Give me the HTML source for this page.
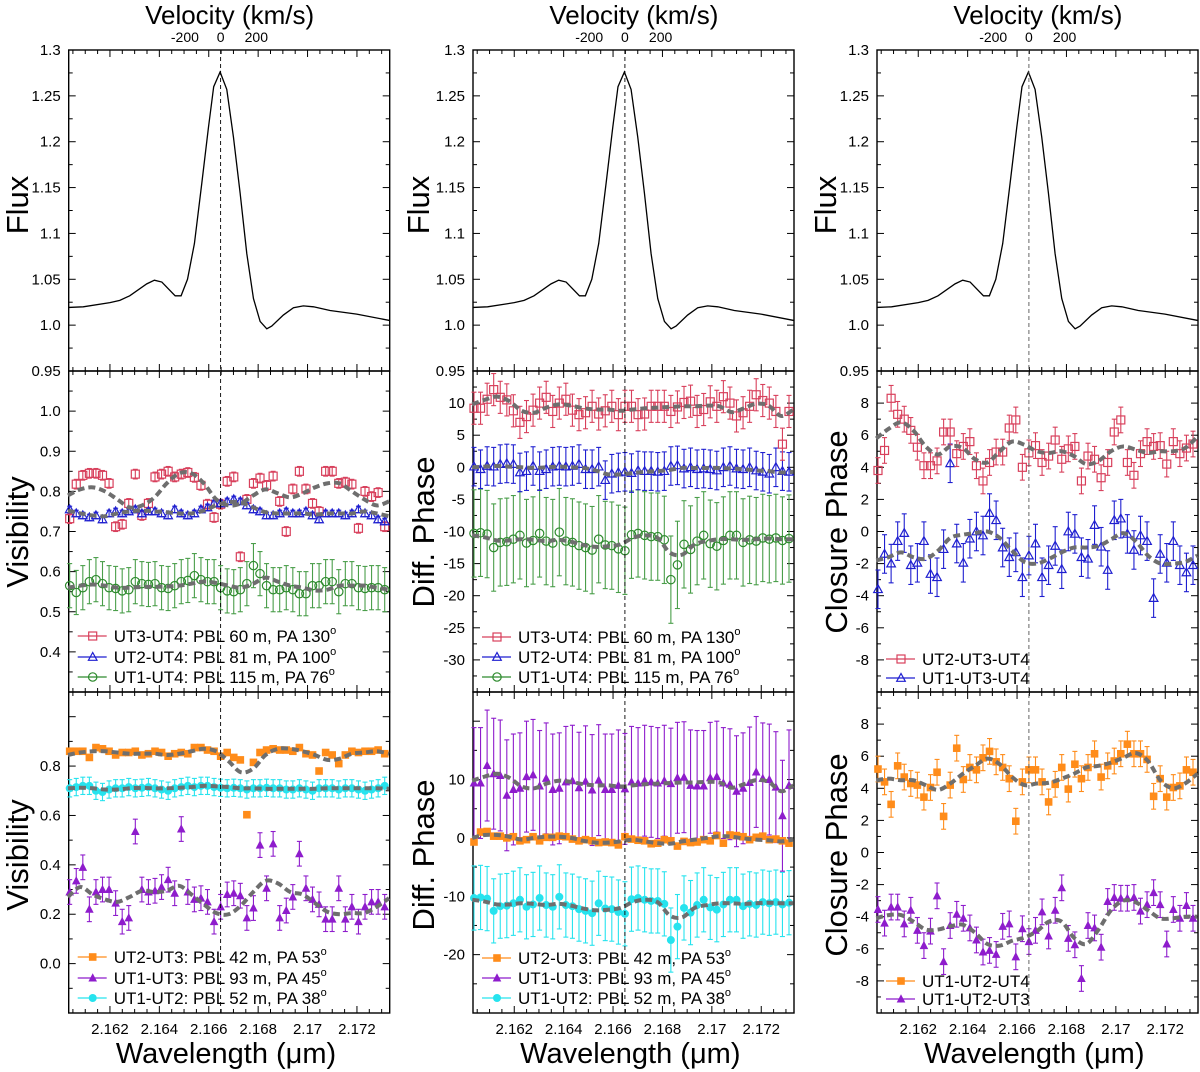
<!DOCTYPE html>
<html><head><meta charset="utf-8"><style>
html,body{margin:0;padding:0;background:#fff;}
svg{display:block;font-family:"Liberation Sans",Arial,sans-serif;}
</style></head><body>
<svg id="fig" width="1200" height="1072" viewBox="0 0 1200 1072" xmlns="http://www.w3.org/2000/svg"></svg>
<script>
// ---------- data ----------
const fluxWl = [2.16033,2.16092,2.16200,2.1624,2.1628,2.16349,2.1638,2.1641,2.16464,2.16488,2.16514,2.16542,2.16572,2.16599,2.1662,2.16646,2.16673,2.167,2.16727,2.16754,2.16781,2.16808,2.16835,2.16855,2.16902,2.16943,2.16983,2.17024,2.17091,2.17199,2.17334];
const fluxVal = [1.0193,1.020,1.0245,1.027,1.032,1.045,1.049,1.047,1.032,1.032,1.050,1.089,1.155,1.216,1.26,1.276,1.257,1.205,1.144,1.078,1.029,1.004,0.996,0.999,1.011,1.019,1.021,1.020,1.016,1.012,1.005];
const lineCenter = 2.16648;
const dataStart = 2.16037, dataStep = 0.0002657, nData = 49;
const modelStart = 2.1603, modelStep = 0.0005, nModel = 27;

// Visibility, UT3-UT4 / UT2-UT4 / UT1-UT4
const visUT34 = [.732,.818,.84,.845,.845,.84,.82,.712,.718,.77,.843,.74,.77,.836,.843,.85,.836,.843,.847,.835,.815,.768,.735,.768,.825,.836,.637,.78,.82,.833,.815,.838,.775,.70,.806,.85,.806,.77,.75,.85,.85,.82,.823,.818,.708,.8,.787,.797,.712];
const visUT24 = [.755,.745,.74,.735,.74,.73,.745,.75,.745,.75,.755,.745,.75,.75,.745,.74,.755,.745,.74,.745,.755,.76,.77,.77,.775,.78,.775,.765,.755,.75,.74,.74,.745,.75,.745,.745,.75,.74,.73,.745,.745,.745,.74,.745,.755,.745,.74,.73,.725];
const visUT14 = [.565,.548,.56,.575,.58,.57,.56,.558,.552,.555,.575,.57,.568,.57,.56,.558,.565,.575,.578,.59,.58,.575,.575,.56,.552,.55,.555,.57,.615,.595,.565,.555,.555,.56,.555,.545,.545,.565,.565,.575,.575,.55,.57,.57,.56,.558,.56,.56,.555];
const visUT34Model = [.79,.805,.81,.80,.78,.76,.765,.785,.82,.845,.845,.82,.78,.765,.77,.79,.805,.795,.785,.795,.81,.82,.82,.80,.78,.765,.775];
const visUT24Model = [.752,.745,.74,.738,.745,.75,.752,.75,.748,.745,.745,.752,.765,.773,.772,.76,.748,.745,.745,.745,.742,.745,.745,.745,.75,.745,.738];
const visUT14Model = [.56,.565,.568,.565,.56,.56,.562,.562,.563,.565,.57,.575,.572,.565,.56,.57,.585,.575,.565,.56,.553,.555,.565,.565,.565,.56,.555];
// Visibility, UT2-UT3 / UT1-UT3 / UT1-UT2
const visUT23 = [.86,.86,.86,.835,.875,.87,.86,.845,.855,.855,.86,.845,.85,.86,.855,.84,.85,.855,.85,.875,.875,.865,.86,.84,.855,.835,.825,.603,.815,.855,.865,.87,.865,.865,.86,.875,.85,.845,.78,.855,.845,.81,.845,.86,.855,.86,.86,.865,.85];
const visUT13 = [.29,.335,.39,.22,.29,.30,.30,.245,.17,.185,.535,.30,.29,.295,.31,.34,.285,.545,.29,.26,.265,.25,.17,.23,.28,.285,.275,.185,.225,.48,.305,.485,.185,.215,.27,.445,.305,.26,.24,.18,.18,.305,.18,.23,.17,.23,.25,.25,.23];
const visUT12 = [.71,.715,.72,.72,.70,.695,.705,.71,.71,.715,.71,.712,.715,.71,.705,.70,.71,.715,.72,.715,.72,.72,.715,.712,.71,.712,.71,.705,.71,.71,.712,.71,.71,.705,.705,.71,.705,.70,.71,.71,.71,.705,.71,.71,.705,.70,.705,.71,.72];
const visUT23Model = [.845,.855,.86,.86,.855,.85,.85,.85,.845,.85,.86,.87,.86,.82,.775,.79,.845,.87,.87,.86,.845,.825,.83,.85,.855,.86,.85];
const visUT13Model = [.27,.31,.28,.26,.25,.27,.295,.29,.295,.315,.28,.24,.205,.20,.235,.29,.335,.325,.29,.28,.245,.21,.20,.205,.205,.23,.265];
const visUT12Model = [.71,.712,.71,.705,.705,.71,.712,.71,.71,.712,.715,.72,.718,.715,.71,.71,.708,.708,.708,.708,.708,.71,.71,.71,.71,.71,.708];
// Differential phase
const dpUT34 = [9.2,9.2,10.6,12.1,10.9,10.5,8.8,7.0,7.9,8.9,10.0,10.9,8.7,10.0,10.6,8.9,8.2,8.5,9.5,8.3,8.8,9.5,8.2,9.5,9.5,8.2,8.3,9.5,9.5,9.5,8.7,9.4,10.1,10.3,8.7,9.0,10.2,9.5,11.0,10.0,8.0,8.5,9.5,11.3,10.4,10.0,8.7,3.6,8.7];
const dpUT24 = [0.1,-0.3,0.2,0.1,0.5,0.6,0.5,-0.8,-0.6,0.2,-0.6,-0.3,0.1,0.2,0.1,0.2,0.5,-0.3,-0.3,0.1,-2.0,-1.0,-0.8,-0.7,-0.9,-0.5,-0.6,-0.6,-0.7,-0.6,0.2,0.3,-0.2,0,-0.3,-0.2,-0.3,-0.5,0,0.2,-0.2,-0.3,0,-0.5,-0.7,-1.0,0,-0.6,-0.7];
const dpUT14 = [-10.3,-10.2,-10.4,-12.5,-11.7,-11.6,-11.2,-10.6,-11.8,-11.4,-10.3,-11.5,-11.8,-10.1,-11.5,-11.7,-12.2,-12.5,-12.9,-11.2,-12.1,-12.2,-12.7,-13.0,-10.5,-10.3,-10.6,-10.8,-10.8,-11.3,-17.5,-15.2,-12.0,-12.8,-11.5,-10.6,-11.9,-12.3,-11.4,-10.6,-10.6,-11.7,-11.3,-11.5,-11.0,-11.2,-11.0,-11.4,-11.1];
const dpUT34Model = [9.8,10.5,11.0,10.3,8.8,8.5,9.3,9.8,9.6,9.2,9.0,9.0,8.8,9.0,9.2,9.3,9.4,9.5,9.5,9.6,9.5,8.6,9.2,9.9,9.6,8.0,9.0];
const dpUT24Model = [0,0.1,0.2,0.1,0,-0.1,0,0.1,0,-0.1,-0.5,-1.1,-1.1,-0.9,-0.7,-0.6,-0.4,-0.1,-0.1,-0.1,-0.1,-0.2,-0.3,-0.5,-0.6,-0.8,-0.7];
const dpUT14Model = [-10.6,-10.9,-11.4,-11.4,-11.2,-11.3,-11.5,-11.3,-11.6,-12.1,-12.4,-12.3,-12.0,-11.0,-10.6,-11.0,-13.3,-13.6,-12.0,-11.5,-11.2,-11.2,-11.3,-11.2,-11.1,-11.2,-11.2];
const dpUT23 = [-0.7,1.0,1.1,0.3,0.3,0,0.2,-0.5,-0.3,0.2,-0.5,0.1,0.1,0.3,0.2,-0.2,-0.5,-0.3,-0.5,-0.8,-0.7,-0.8,-1.2,0.2,-0.2,-0.4,-0.5,-1.0,-0.9,-0.3,-0.5,-1.4,-0.6,-0.8,-0.7,-0.3,-0.5,0.4,-0.9,0.5,0.4,0.2,-0.3,0.1,0.3,-0.3,-0.2,-0.5,-0.9];
const dpUT13 = [9.4,9.4,12.4,11.0,10.7,7.3,8.3,8.5,10.5,10.8,8.9,10.2,8.3,8.5,9.6,9.8,8.6,9.7,8.2,9.9,8.3,8.3,9.0,8.4,9.6,9.4,9.8,9.6,9.4,9.8,9.3,10.3,10.4,9.0,8.9,8.9,10.3,10.5,9.4,9.2,8.0,8.5,9.5,11.3,10.2,10.0,8.7,3.8,9.0];
const dpUT12 = [-10.3,-10.2,-10.4,-12.5,-11.7,-11.6,-11.2,-10.6,-11.8,-11.4,-10.3,-11.5,-11.8,-10.1,-11.5,-11.7,-12.2,-12.5,-12.9,-11.2,-12.1,-12.2,-12.7,-13.0,-10.5,-10.3,-10.6,-10.8,-10.8,-11.3,-17.5,-15.2,-12.0,-12.8,-11.5,-10.6,-11.9,-12.3,-11.4,-10.6,-10.6,-11.7,-11.3,-11.5,-11.0,-11.2,-11.0,-11.4,-11.1];
const dpUT23Model = [0,0.5,0.5,0.2,-0.3,0,0.2,0.2,0,-0.5,-0.8,-0.8,-0.6,-0.3,-0.6,-0.9,-1.0,-0.6,-0.3,0,0.3,0.2,-0.1,-0.3,-0.4,-0.6,-0.3];
const dpUT13Model = [9.8,10.5,11.0,10.3,8.8,8.5,9.3,9.8,9.6,9.2,9.0,9.0,8.8,9.0,9.2,9.3,9.4,9.5,9.5,9.6,9.5,8.6,9.2,9.9,9.6,8.0,9.0];
const dpUT12Model = [-10.6,-10.9,-11.4,-11.4,-11.2,-11.3,-11.5,-11.3,-11.6,-12.1,-12.4,-12.3,-12.0,-11.0,-10.6,-11.0,-13.3,-13.6,-12.0,-11.5,-11.2,-11.2,-11.3,-11.2,-11.1,-11.2,-11.2];
// Closure phase
const cpUT234 = [3.8,5.05,8.3,7.3,7.0,6.3,5.25,4.1,4.1,4.4,6.2,6.2,4.85,5.3,5.6,4.1,3.15,4.3,4.95,4.95,6.45,6.95,4.0,4.9,5.35,4.3,4.7,5.7,4.5,5.15,5.3,3.15,4.7,4.5,3.35,4.3,6.2,6.95,4.3,3.5,4.85,5.6,5.3,5.35,4.2,5.6,4.85,5.2,5.45];
const cpUT134 = [-3.6,-1.4,-2.0,-0.6,-0.1,-2.1,-1.95,-0.6,-2.65,-2.85,-1.1,4.25,-0.75,-1.95,-0.45,0,-0.25,1.15,0.7,-1.0,-1.6,-1.3,-2.85,-1.5,-0.75,-2.85,-2.1,-0.9,-2.35,0,-0.15,-1.6,-1.7,0.4,-0.95,-2.4,0.7,0.8,-0.15,-1.15,-0.25,-0.6,-4.15,-1.4,-1.95,-0.6,-2.1,-2.55,-2.1];
const cpUT234Model = [5.8,6.4,6.8,6.3,5.3,4.8,5.3,5.2,4.5,4.3,5.0,5.6,5.4,5.0,4.9,5.0,4.7,4.2,4.4,5.0,5.3,5.1,4.9,5.0,5.0,5.2,5.9];
const cpUT134Model = [-1.8,-1.6,-1.3,-1.6,-1.7,-1.2,-0.4,-0.2,-0.1,0,-0.4,-1.2,-1.9,-2.0,-1.7,-1.3,-1.0,-1.0,-0.9,-0.5,-0.1,-0.6,-1.5,-2.0,-2.0,-1.9,-1.5];
const cpUT124 = [5.2,4.4,3.0,5.4,4.7,4.3,4.2,3.45,4.05,5.0,2.25,4.2,6.5,4.55,5.3,5.15,5.9,6.3,5.65,5.3,4.6,1.95,4.4,5.15,5.15,4.4,3.15,4.25,5.3,3.95,5.5,4.6,5.3,6.15,4.7,5.4,5.7,6.15,6.75,6.15,6.15,5.8,3.5,4.6,3.45,4.05,4.15,5.15,5.0];
const cpUT123 = [-3.55,-4.4,-3.4,-3.4,-4.45,-3.6,-4.85,-5.8,-4.9,-2.7,-6.8,-4.55,-3.85,-4.1,-4.7,-5.45,-6.2,-6.1,-6.35,-4.6,-4.45,-6.5,-4.75,-5.55,-4.85,-3.7,-5.2,-3.6,-2.2,-5.35,-5.75,-7.85,-4.55,-4.7,-5.9,-3.05,-2.8,-2.85,-2.85,-2.8,-3.65,-3.25,-2.5,-3.25,-5.7,-3.55,-4.1,-3.3,-4.1];
const cpUT124Model = [4.5,4.6,4.5,4.5,4.2,3.9,4.3,4.9,5.4,5.85,5.5,4.7,4.2,4.3,4.35,4.6,4.9,5.3,5.4,5.6,5.9,6.2,5.7,4.5,4.0,4.3,4.9];
const cpUT123Model = [-4.1,-3.9,-3.9,-4.3,-4.8,-4.8,-4.6,-4.5,-5.0,-5.7,-5.8,-5.5,-5.3,-4.9,-4.3,-4.3,-5.3,-5.7,-4.8,-3.6,-3.0,-3.1,-3.6,-4.1,-4.1,-4.0,-4.0];

// ---------- drawing ----------
const NS = "http://www.w3.org/2000/svg";
const svg = document.getElementById('fig');
function mk(tag, attrs, parent){
  const e = document.createElementNS(NS, tag);
  for (const k in attrs) e.setAttribute(k, attrs[k]);
  (parent||svg).appendChild(e);
  return e;
}
const W0 = 2.16033, PX = 24700, PW = 321, PH = 321;
const COLS = [68.7, 473, 877];
const ROWS = [50, 371, 692];
const C = {red:'#d8405c', blue:'#1f1fd0', green:'#2e8b2e', greenErr:'#4a9e4a', orange:'#ff8c1a', purple:'#8e1ccc', cyan:'#26e3ee', model:'#6e6e6e'};

function xs(L, w){ return L + (w - W0)*PX; }
function makeY(T, ymin, ymax){ return v => T + (ymax - v)/(ymax - ymin)*PH; }

function smoothPath(pts){
  let d = 'M' + pts[0][0].toFixed(2) + ',' + pts[0][1].toFixed(2);
  for (let i=0;i<pts.length-1;i++){
    const p0 = pts[Math.max(0,i-1)], p1 = pts[i], p2 = pts[i+1], p3 = pts[Math.min(pts.length-1,i+2)];
    const c1 = [p1[0]+(p2[0]-p0[0])/6, p1[1]+(p2[1]-p0[1])/6];
    const c2 = [p2[0]-(p3[0]-p1[0])/6, p2[1]-(p3[1]-p1[1])/6];
    d += ' C' + c1.map(v=>v.toFixed(2)).join(',') + ' ' + c2.map(v=>v.toFixed(2)).join(',') + ' ' + p2[0].toFixed(2) + ',' + p2[1].toFixed(2);
  }
  return d;
}

function panelAxes(L, T, ymin, ymax, labels, majorStep, minorStep, name){
  const y = makeY(T, ymin, ymax);
  const g = mk('g', {});
  
  
  mk('rect', {x:L, y:T, width:PW, height:PH, fill:'none', stroke:'#000', 'stroke-width':1.4}, g);
  for (let k=0;k<=30;k++){
    const w = 2.1605 + k*0.0005;
    const px = xs(L, w);
    if (px <= L+0.5 || px >= L+PW-0.5) continue;
    const major = Math.abs(((w-2.160)/0.002) - Math.round((w-2.160)/0.002)) < 1e-6;
    const len = major ? 7 : 4;
    mk('line', {x1:px, x2:px, y1:T, y2:T+len, stroke:'#000', 'stroke-width':1}, g);
    mk('line', {x1:px, x2:px, y1:T+PH, y2:T+PH-len, stroke:'#000', 'stroke-width':1}, g);
  }
  const n0 = Math.ceil(ymin/minorStep - 1e-6), n1 = Math.floor(ymax/minorStep + 1e-6);
  for (let n=n0;n<=n1;n++){
    const v = n*minorStep;
    const py = y(v);
    if (py <= T+0.5 || py >= T+PH-0.5) continue;
    const r = v/majorStep;
    const major = Math.abs(r - Math.round(r)) < 1e-6;
    const len = major ? 7 : 4;
    mk('line', {x1:L, x2:L+len, y1:py, y2:py, stroke:'#000', 'stroke-width':1}, g);
    mk('line', {x1:L+PW, x2:L+PW-len, y1:py, y2:py, stroke:'#000', 'stroke-width':1}, g);
  }
  labels.forEach(([v, s]) => {
    const t = mk('text', {x:L-8, y:y(v)+5, 'text-anchor':'end', 'font-size':15, fill:'#000'}, g);
    
    
    t.textContent = s;
  });
  return y;
}

function drawSeries(L, y, vals, err, color, errColor, marker, name){
  const g = mk('g', {});
  
  
  vals.forEach((v, i) => {
    const w = dataStart + i*dataStep;
    const px = xs(L, w), py = y(v);
    if (err > 0){
      const a = y(v+err), b = y(v-err);
      mk('line', {x1:px, x2:px, y1:a, y2:b, stroke:errColor, 'stroke-width':1.1}, g);
      mk('line', {x1:px-2.5, x2:px+2.5, y1:a, y2:a, stroke:errColor, 'stroke-width':1.1}, g);
      mk('line', {x1:px-2.5, x2:px+2.5, y1:b, y2:b, stroke:errColor, 'stroke-width':1.1}, g);
    }
    const m = drawMarker(g, px, py, marker, color);
    
    
  });
}

function drawMarker(g, px, py, marker, color){
  if (marker === 'osq') return mk('rect', {x:px-4, y:py-4, width:8, height:8, fill:'#fff', 'fill-opacity':0, stroke:color, 'stroke-width':1.2}, g);
  if (marker === 'fsq') return mk('rect', {x:px-3.8, y:py-3.8, width:7.6, height:7.6, fill:color}, g);
  if (marker === 'otri') return mk('polygon', {points:`${px},${py-4.5} ${px-4.3},${py+3.3} ${px+4.3},${py+3.3}`, fill:'none', stroke:color, 'stroke-width':1.2}, g);
  if (marker === 'ftri') return mk('polygon', {points:`${px},${py-4.8} ${px-4.3},${py+3.5} ${px+4.3},${py+3.5}`, fill:color}, g);
  if (marker === 'ocirc') return mk('circle', {cx:px, cy:py, r:4.2, fill:'none', stroke:color, 'stroke-width':1.2}, g);
  return mk('circle', {cx:px, cy:py, r:4, fill:color}, g);
}

function drawModel(L, y, vals, name){
  const pts = vals.map((v,i) => [xs(L, modelStart + i*modelStep), y(v)]);
  const p = mk('path', {d:smoothPath(pts), fill:'none', stroke:C.model, 'stroke-width':4, 'stroke-dasharray':'7 4'});
  
  
}

function legend(L, ys, items){
  items.forEach((it, k) => {
    const yy = ys[k];
    const g = mk('g', {});
    
    
    mk('line', {x1:L+9, x2:L+38, y1:yy, y2:yy, stroke:it.color, 'stroke-width':1.2}, g);
    drawMarker(g, L+24, yy, it.marker, it.color);
    const t = mk('text', {x:L+45, y:yy+6, 'font-size':17, fill:'#000'}, g);
    t.textContent = it.text;
    if (it.sup){
      const s = mk('tspan', {dy:-8, 'font-size':11}, t);
      s.textContent = 'o';
    }
  });
}

function txt(x, y, s, size, name, rot){
  const t = mk('text', {x:x, y:y, 'text-anchor':'middle', 'font-size':size, fill:'#000'});
  if (rot) t.setAttribute('transform', `rotate(-90 ${x} ${y})`);
  
  
  t.textContent = s;
  return t;
}

const topLabels = [[1.3,'1.3'],[1.25,'1.25'],[1.2,'1.2'],[1.15,'1.15'],[1.1,'1.1'],[1.05,'1.05'],[1.0,'1.0'],[0.95,'0.95']];
const titles = [['Visibility','Visibility'],['Diff. Phase','Diff. Phase'],['Closure Phase','Closure Phase']];
const titleX = [28, 434, 847];
const fluxTitleX = [28, 429, 836];

COLS.forEach((L, c) => {
  const yf = panelAxes(L, ROWS[0], 0.95, 1.3, topLabels, 0.05, 0.025, 'flux-panel-' + (c+1));
  const fp = mk('polyline', {points: fluxWl.map((w,i)=> xs(L,w).toFixed(2)+','+yf(fluxVal[i]).toFixed(2)).join(' '), fill:'none', stroke:'#000', 'stroke-width':1.3});
  
  
  const cx = xs(L, lineCenter);
  txt(cx + 9, 24, 'Velocity (km/s)', 26, 'velocity-axis-title');
  [[-200,'-200'],[0,'0'],[200,'200']].forEach(([v,s]) => {
    txt(cx + v*(35.7/200), 42, s, 14, 'velocity-tick-label');
  });
  txt(fluxTitleX[c], 205, 'Flux', 31, 'y-axis-title-flux', true);
  txt(titleX[c], 532, titles[c][0], 31, 'y-axis-title-mid', true);
  txt(titleX[c], 855, titles[c][1], 31, 'y-axis-title-bottom', true);
  [[2.162,'2.162'],[2.164,'2.164'],[2.166,'2.166'],[2.168,'2.168'],[2.17,'2.17'],[2.172,'2.172']].forEach(([w,s]) => {
    txt(xs(L,w), 1034, s, 15, 'x-tick-label');
  });
  txt(xs(L, 2.1667), 1063, 'Wavelength (\u03bcm)', 29, 'x-axis-title');
});

// column 1
{
  const L = COLS[0];
  const ym = panelAxes(L, ROWS[1], 0.3, 1.1, [[1.0,'1.0'],[0.9,'0.9'],[0.8,'0.8'],[0.7,'0.7'],[0.6,'0.6'],[0.5,'0.5'],[0.4,'0.4']], 0.1, 0.05, 'visibility-panel-1');
  drawSeries(L, ym, visUT14, 0.055, C.green, C.greenErr, 'ocirc', 'vis-ut1-ut4');
  drawSeries(L, ym, visUT34, 0.012, C.red, C.red, 'osq', 'vis-ut3-ut4');
  drawSeries(L, ym, visUT24, 0.008, C.blue, C.blue, 'otri', 'vis-ut2-ut4');
  drawModel(L, ym, visUT34Model, 'vis-ut3-ut4');
  drawModel(L, ym, visUT24Model, 'vis-ut2-ut4');
  drawModel(L, ym, visUT14Model, 'vis-ut1-ut4');
  legend(L, [636,657,677], [
    {color:C.red, marker:'osq', text:'UT3-UT4: PBL 60 m, PA 130', sup:true},
    {color:C.blue, marker:'otri', text:'UT2-UT4: PBL 81 m, PA 100', sup:true},
    {color:C.green, marker:'ocirc', text:'UT1-UT4: PBL 115 m, PA 76', sup:true}]);
  const yb = panelAxes(L, ROWS[2], -0.2, 1.1, [[0.8,'0.8'],[0.6,'0.6'],[0.4,'0.4'],[0.2,'0.2'],[0.0,'0.0']], 0.2, 0.1, 'visibility-panel-2');
  drawSeries(L, yb, visUT12, 0.035, C.cyan, C.cyan, 'fcirc', 'vis-ut1-ut2');
  drawSeries(L, yb, visUT13, 0.05, C.purple, C.purple, 'ftri', 'vis-ut1-ut3');
  drawSeries(L, yb, visUT23, 0, C.orange, C.orange, 'fsq', 'vis-ut2-ut3');
  drawModel(L, yb, visUT23Model, 'vis-ut2-ut3');
  drawModel(L, yb, visUT12Model, 'vis-ut1-ut2');
  drawModel(L, yb, visUT13Model, 'vis-ut1-ut3');
  legend(L, [957,978,998], [
    {color:C.orange, marker:'fsq', text:'UT2-UT3: PBL 42 m, PA 53', sup:true},
    {color:C.purple, marker:'ftri', text:'UT1-UT3: PBL 93 m, PA 45', sup:true},
    {color:C.cyan, marker:'fcirc', text:'UT1-UT2: PBL 52 m, PA 38', sup:true}]);
}
// column 2
{
  const L = COLS[1];
  const ym = panelAxes(L, ROWS[1], -35, 15, [[10,'10'],[5,'5'],[0,'0'],[-5,'-5'],[-10,'-10'],[-15,'-15'],[-20,'-20'],[-25,'-25'],[-30,'-30']], 5, 2.5, 'diff-phase-panel-1');
  drawSeries(L, ym, dpUT14, 6.8, C.green, C.greenErr, 'ocirc', 'dp-ut1-ut4');
  drawSeries(L, ym, dpUT24, 3.0, C.blue, C.blue, 'otri', 'dp-ut2-ut4');
  drawSeries(L, ym, dpUT34, 2.5, C.red, C.red, 'osq', 'dp-ut3-ut4');
  drawModel(L, ym, dpUT34Model, 'dp-ut3-ut4');
  drawModel(L, ym, dpUT24Model, 'dp-ut2-ut4');
  drawModel(L, ym, dpUT14Model, 'dp-ut1-ut4');
  legend(L, [637,657,677], [
    {color:C.red, marker:'osq', text:'UT3-UT4: PBL 60 m, PA 130', sup:true},
    {color:C.blue, marker:'otri', text:'UT2-UT4: PBL 81 m, PA 100', sup:true},
    {color:C.green, marker:'ocirc', text:'UT1-UT4: PBL 115 m, PA 76', sup:true}]);
  const yb = panelAxes(L, ROWS[2], -30, 25, [[10,'10'],[0,'0'],[-10,'-10'],[-20,'-20']], 10, 5, 'diff-phase-panel-2');
  drawSeries(L, yb, dpUT12, 5.5, C.cyan, C.cyan, 'fcirc', 'dp-ut1-ut2');
  drawSeries(L, yb, dpUT13, 9.5, C.purple, C.purple, 'ftri', 'dp-ut1-ut3');
  drawSeries(L, yb, dpUT23, 0, C.orange, C.orange, 'fsq', 'dp-ut2-ut3');
  drawModel(L, yb, dpUT13Model, 'dp-ut1-ut3');
  drawModel(L, yb, dpUT23Model, 'dp-ut2-ut3');
  drawModel(L, yb, dpUT12Model, 'dp-ut1-ut2');
  legend(L, [958,978,998], [
    {color:C.orange, marker:'fsq', text:'UT2-UT3: PBL 42 m, PA 53', sup:true},
    {color:C.purple, marker:'ftri', text:'UT1-UT3: PBL 93 m, PA 45', sup:true},
    {color:C.cyan, marker:'fcirc', text:'UT1-UT2: PBL 52 m, PA 38', sup:true}]);
}
// column 3
{
  const L = COLS[2];
  const cpLabels = [[8,'8'],[6,'6'],[4,'4'],[2,'2'],[0,'0'],[-2,'-2'],[-4,'-4'],[-6,'-6'],[-8,'-8']];
  const ym = panelAxes(L, ROWS[1], -10, 10, cpLabels, 2, 1, 'closure-phase-panel-1');
  drawSeries(L, ym, cpUT134, 1.2, C.blue, C.blue, 'otri', 'cp-ut1-ut3-ut4');
  drawSeries(L, ym, cpUT234, 0.8, C.red, C.red, 'osq', 'cp-ut2-ut3-ut4');
  drawModel(L, ym, cpUT234Model, 'cp-ut2-ut3-ut4');
  drawModel(L, ym, cpUT134Model, 'cp-ut1-ut3-ut4');
  legend(L, [659,678], [
    {color:C.red, marker:'osq', text:'UT2-UT3-UT4'},
    {color:C.blue, marker:'otri', text:'UT1-UT3-UT4'}]);
  const yb = panelAxes(L, ROWS[2], -10, 10, cpLabels, 2, 1, 'closure-phase-panel-2');
  drawSeries(L, yb, cpUT124, 0.8, C.orange, C.orange, 'fsq', 'cp-ut1-ut2-ut4');
  drawSeries(L, yb, cpUT123, 0.8, C.purple, C.purple, 'ftri', 'cp-ut1-ut2-ut3');
  drawModel(L, yb, cpUT124Model, 'cp-ut1-ut2-ut4');
  drawModel(L, yb, cpUT123Model, 'cp-ut1-ut2-ut3');
  legend(L, [981,999], [
    {color:C.orange, marker:'fsq', text:'UT1-UT2-UT4'},
    {color:C.purple, marker:'ftri', text:'UT1-UT2-UT3'}]);
}
COLS.forEach((L, c) => {
  const x = xs(L, lineCenter);
  const d = mk('line', {x1:x, x2:x, y1:ROWS[0], y2:ROWS[2]+PH, stroke: c===2 ? '#555' : '#000', 'stroke-width':0.9, 'stroke-dasharray':'4 3'});
  
  
});
</script>
</body></html>
